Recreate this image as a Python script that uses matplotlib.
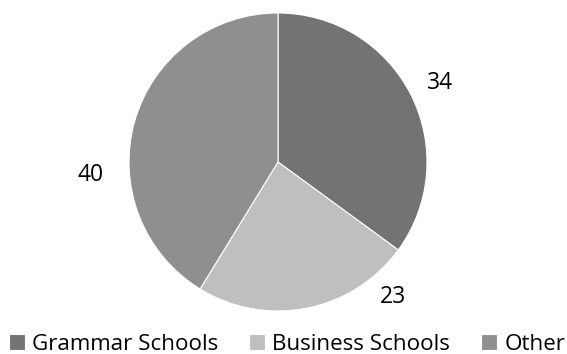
import numpy as np
import matplotlib.pyplot as plt

categories = ["Grammar Schools", "Business Schools", "Other"]
values = [34, 23, 40]
colors = ["#737373", "#bfbfbf", "#8f8f8f"]

# where each value label sits: angle (deg) and distance in pie radii
label_angles = [26.0, -49.6, 184.0]
label_dist = [1.21, 1.19, 1.26]

plt.rcParams['font.family'] = ['Open Sans', 'DejaVu Sans']

fig = plt.figure(figsize=(5.67, 3.54), dpi=100)
W, H = 567, 354
cx, cy, r = 278, 162, 149
ax = fig.add_axes([(cx - r) / W, (H - cy - r) / H, 2 * r / W, 2 * r / H])

wedges, _ = ax.pie(values, colors=colors, startangle=90, counterclock=False,
                   radius=1, wedgeprops=dict(edgecolor='white', linewidth=0.8))
ax.set_xlim(-1, 1)
ax.set_ylim(-1, 1)
ax.set_aspect('equal')
ax.axis('off')

for v, a, d in zip(values, label_angles, label_dist):
    t = np.deg2rad(a)
    ax.text(d * np.cos(t), d * np.sin(t), str(v), ha='center', va='center',
            fontsize=16.5, color='black')

fig.legend(wedges, categories, loc='lower left', bbox_to_anchor=(9 / W, -0.003),
           ncol=3, frameon=False, fontsize=16.1, borderpad=0, borderaxespad=0,
           handlelength=0.72, handleheight=0.72, handletextpad=0.3,
           columnspacing=1.4)

fig.savefig("out.png", dpi=100)
